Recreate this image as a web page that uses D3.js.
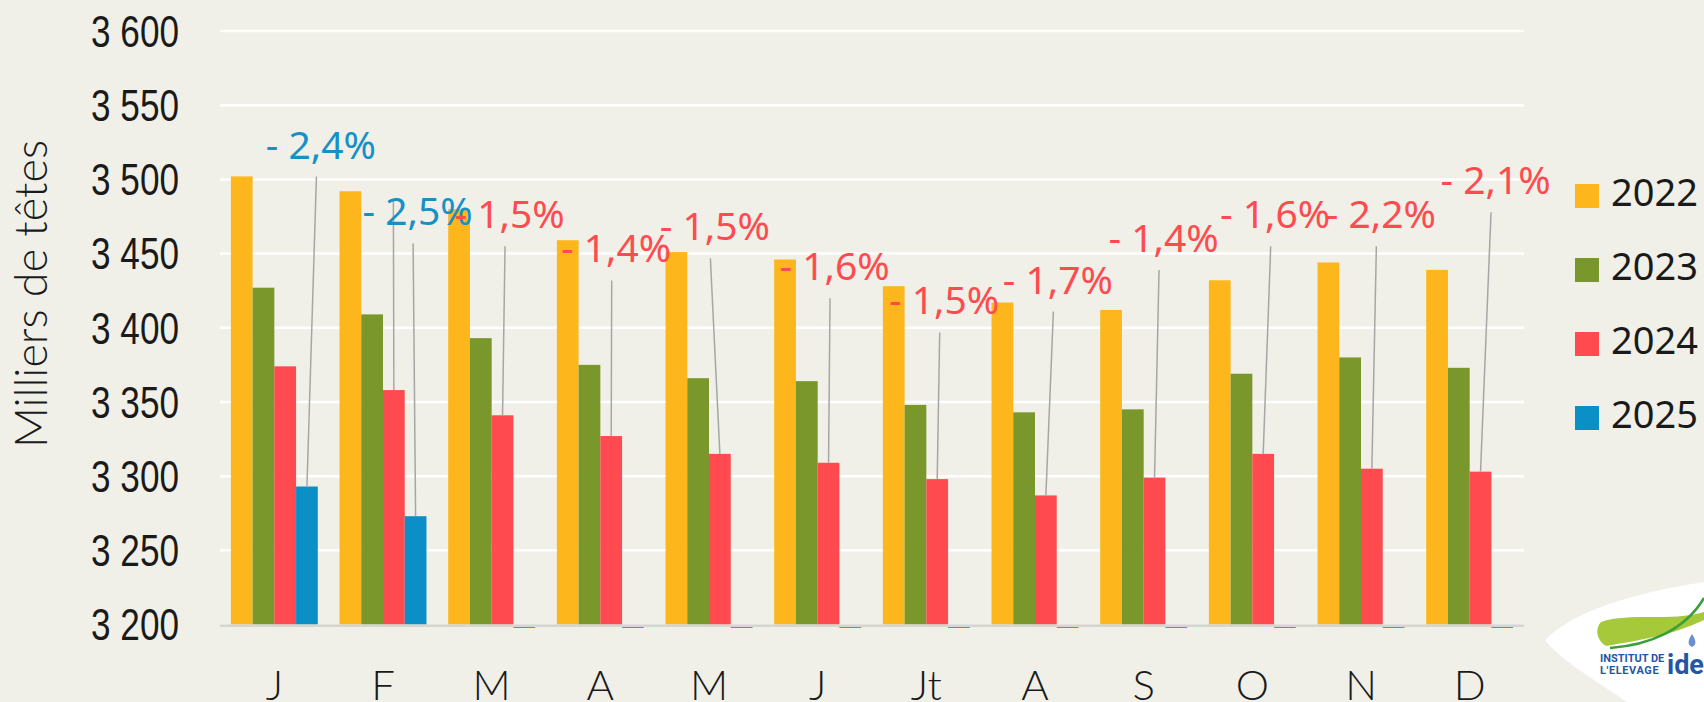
<!DOCTYPE html>
<html><head><meta charset="utf-8">
<script src="https://cdn.jsdelivr.net/npm/d3@7"></script>
<style>
html,body{margin:0;padding:0;background:#f0f0e8;overflow:hidden}
svg{display:block}
</style>
</head><body><svg id="c" width="1704" height="702"></svg>
<script>
// ---------- data ----------
const months = ["J","F","M","A","M","J","Jt","A","S","O","N","D"];
const years = ["2022","2023","2024","2025"];
const v2022 = [3502,3492,3480,3459,3451,3446,3428,3417,3412,3432,3444,3439];
const v2023 = [3427,3409,3393,3375,3366,3364,3348,3343,3345,3369,3380,3373];
const v2024 = [3374,3358,3341,3327,3315,3309,3298,3287,3299,3315,3305,3303];
const v2025 = [3293,3273,null,null,null,null,null,null,null,null,null,null];
const yTicks = [3200,3250,3300,3350,3400,3450,3500,3550,3600];
// variation labels (2025 vs 2024, then 2024 vs 2023)
const labels2025 = ["- 2,4%","- 2,5%",null,null,null,null,null,null,null,null,null,null];
const labels2024 = [null,"","- 1,5%","- 1,4%","- 1,5%","- 1,6%","- 1,5%","- 1,7%","- 1,4%","- 1,6%","- 2,2%","- 2,1%"];
// label placement (layout): horizontal shift in px, baseline height in data units
const lab2025Pos = [[14,3514],[2,3469]];
const lab2024Pos = [null,[4,3498],[7,3467],[5,3444],[-5,3459],[6,3432],[7,3409],[12,3423],[9,3451],[12,3467],[9,3467],[15,3490]];

// ---------- layout ----------
const colors = {"2022":"#fdb71c","2023":"#7a972b","2024":"#ff4b4f","2025":"#0a8fc6"};
const series = {"2022":v2022,"2023":v2023,"2024":v2024,"2025":v2025};
const svg = d3.select("#c");
const W = 1704, H = 702;
svg.append("rect").attr("width",W).attr("height",H).attr("fill","#f0f0e8");

const x0 = d3.scaleBand().domain(d3.range(12)).range([220,1524]).paddingInner(0).paddingOuter(0);
const x1 = d3.scaleBand().domain(years).range([0,x0.bandwidth()]).paddingInner(0).paddingOuter(0.5);
const y = d3.scaleLinear().domain([3200,3600]).range([624.5,31]);

// gridlines
svg.append("g").selectAll("line").data(yTicks.filter(d=>d>3200)).join("line")
  .attr("x1",220).attr("x2",1524)
  .attr("y1",d=>y(d)).attr("y2",d=>y(d))
  .attr("stroke","#ffffff").attr("stroke-width",2.5);

// y axis labels
const yAxis = svg.append("g").attr("transform","translate(220,0)")
  .call(d3.axisLeft(y).tickValues(yTicks).tickSize(0).tickPadding(41)
    .tickFormat(d=>d3.format(",")(d).replace(","," ")));
yAxis.select(".domain").remove();
yAxis.selectAll("text").attr("font-family","'Liberation Sans Narrow','Arial Narrow','Liberation Sans',sans-serif")
  .attr("font-size",45).attr("fill","#1a1a1a").attr("dy","0.34em")
  .attr("textLength",88).attr("lengthAdjust","spacingAndGlyphs");

// bars
const groups = svg.append("g").selectAll("g").data(d3.range(12)).join("g")
  .attr("transform",i=>`translate(${x0(i)},0)`);
groups.selectAll("rect.bar").data(i=>years.map(yr=>({yr,v:series[yr][i]})).filter(d=>d.v!=null)).join("rect")
  .attr("class","bar")
  .attr("x",d=>x1(d.yr)).attr("width",x1.bandwidth())
  .attr("y",d=>y(d.v)).attr("height",d=>y(3200)-y(d.v))
  .attr("fill",d=>colors[d.yr]);

// x axis
const xAxis = svg.append("g").attr("transform",`translate(0,${y(3200)})`)
  .call(d3.axisBottom(x0).tickSize(0).tickFormat(i=>months[i]));
xAxis.select(".domain").attr("stroke","#d6d6d0").attr("stroke-width",2.5).attr("d","M220,1.2H1524");
xAxis.selectAll("text").attr("font-family","Lato,'Open Sans',sans-serif").attr("font-weight",300)
  .attr("font-size",42).attr("fill","#1a1a1a").attr("dy",0).attr("y",75);

// empty 2025 stubs under the axis
groups.selectAll("rect.stub").data(i=>v2025[i]==null?[i]:[]).join("rect")
  .attr("class","stub")
  .attr("x",x1("2025")).attr("width",x1.bandwidth())
  .attr("y",y(3200)+1.5).attr("height",1.8).attr("fill",colors["2025"]);

// variation labels with leader lines
const labs = [];
labels2025.forEach((t,i)=>{ if(t!=null) labs.push({i,yr:"2025",t,pos:lab2025Pos[i]}); });
labels2024.forEach((t,i)=>{ if(t!=null) labs.push({i,yr:"2024",t,pos:lab2024Pos[i]}); });
labs.forEach(d=>{
  d.bx = x0(d.i)+x1(d.yr)+x1.bandwidth()/2;
  d.by = y(series[d.yr][d.i]);
  d.lx = d.bx + d.pos[0];
  d.ly = y(d.pos[1]);
});
svg.append("g").selectAll("line").data(labs).join("line")
  .attr("x1",d=>d.lx-4.5).attr("y1",d=>d.ly+18)
  .attr("x2",d=>d.bx).attr("y2",d=>d.by)
  .attr("stroke","#a6a6a6").attr("stroke-width",1.5);
svg.append("g").selectAll("text").data(labs).join("text")
  .attr("x",d=>d.lx).attr("y",d=>d.ly)
  .attr("text-anchor","middle")
  .attr("font-family","'Noto Sans','Open Sans',sans-serif").attr("font-size",39)
  .attr("fill",d=>d.yr==="2025"?"#1591c8":"#ff4b4f")
  .text(d=>d.t);

// y axis title
svg.append("text").attr("transform","translate(47,294) rotate(-90)")
  .attr("text-anchor","middle")
  .attr("font-family","Lato,'Open Sans',sans-serif").attr("font-weight",300)
  .attr("font-size",45).attr("fill","#1a1a1a").text("Milliers de têtes");

// legend
const leg = svg.append("g").selectAll("g").data(years).join("g")
  .attr("transform",(d,i)=>`translate(1575,${184+i*74})`);
leg.append("rect").attr("width",24).attr("height",24).attr("fill",d=>colors[d]);
leg.append("text").attr("x",36).attr("y",22)
  .attr("font-family","'Noto Sans','Open Sans',sans-serif").attr("font-size",38)
  .attr("fill","#1a1a1a").text(d=>d);

// logo (bottom right)
const logo = svg.append("g");
logo.append("path").attr("d","M1545,640 C1570,615 1620,595 1704,582 L1704,702 L1627,702 C1595,680 1560,660 1545,640 Z").attr("fill","#ffffff");
logo.append("path").attr("d","M1601,622 C1630,612 1670,622 1704,612 L1704,620 C1670,636 1640,640 1606,646 C1596,640 1595,628 1601,622 Z").attr("fill","#a5c93a");
logo.append("path").attr("d","M1610,648 C1650,645 1685,630 1704,598").attr("fill","none").attr("stroke","#3a9f3a").attr("stroke-width",2.5);
logo.append("path").attr("d","M1692,634 C1688,640 1687,645 1692,647 C1697,645 1696,640 1692,634 Z").attr("fill","#6b8fd0");
logo.append("text").attr("x",1600).attr("y",662).attr("font-family","'Liberation Sans Narrow','Roboto',sans-serif")
  .attr("font-weight","bold").attr("font-size",11).attr("fill","#2356a4").text("INSTITUT DE");
logo.append("text").attr("x",1600).attr("y",673.5).attr("font-family","'Liberation Sans Narrow','Roboto',sans-serif")
  .attr("font-weight","bold").attr("font-size",11).attr("letter-spacing",0.6).attr("fill","#2356a4").text("L'ELEVAGE");
logo.append("text").attr("x",1667).attr("y",674).attr("font-family","'Roboto','Liberation Sans',sans-serif")
  .attr("font-weight","bold").attr("font-size",27).attr("fill","#2356a4").text("ide");
</script>
</body></html>
